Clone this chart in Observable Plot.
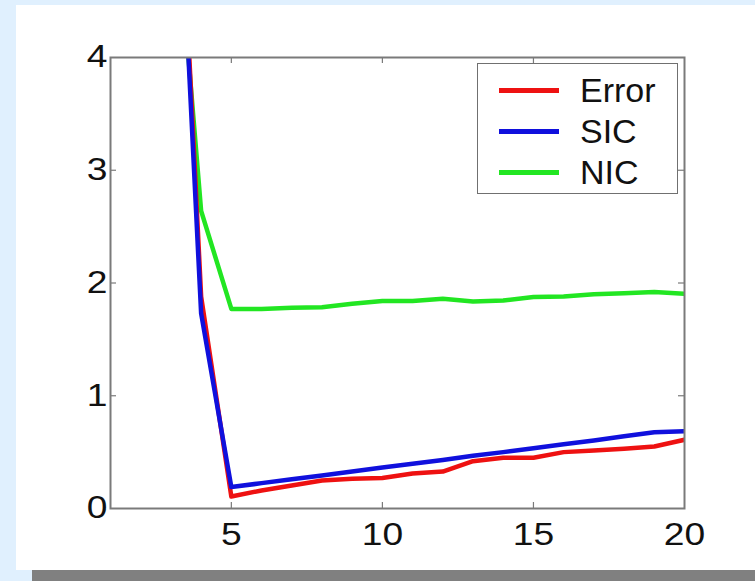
<!DOCTYPE html>
<html>
<head>
<meta charset="utf-8">
<script src="https://cdn.jsdelivr.net/npm/d3@7"></script>
<script src="https://cdn.jsdelivr.net/npm/@observablehq/plot@0.6"></script>
<style>
  html, body { margin: 0; padding: 0; }
  body { width: 755px; height: 581px; background: #e0f0fe; position: relative; overflow: hidden; font-family: "Liberation Sans", Arial, sans-serif; }
  #panel { position: absolute; left: 16px; top: 5px; width: 739px; height: 565px; background: #ffffff; }
  #bar { position: absolute; left: 32px; top: 570px; width: 723px; height: 11px; background: #808080; }
  #chart { position: absolute; left: 0; top: 0; }
  #legend { position: absolute; left: 477px; top: 63px; width: 199px; height: 129px; border: 1.5px solid #707070; background: #fff; }
  .row { position: absolute; left: 0; height: 40px; width: 199px; }
  .sw { position: absolute; left: 21px; top: 18px; width: 60px; height: 4.5px; }
  .lab { position: absolute; left: 102px; top: 0; line-height: 40px; font-size: 34px; color: #111; }
</style>
</head>
<body>
<div id="panel"></div>
<div id="bar"></div>
<div id="chart"></div>
<div id="legend"></div>
<script>
// x positions
const xs = [3, 4, 5, 6, 7, 8, 9, 10, 11, 12, 13, 14, 15, 16, 17, 18, 19, 20];
// series values
const errorVals = [7.3, 1.88, 0.106, 0.16, 0.204, 0.248, 0.263, 0.27, 0.31, 0.328, 0.42, 0.45, 0.45, 0.5, 0.514, 0.53, 0.55, 0.61];
const sicVals   = [7.15, 1.73, 0.19, 0.225, 0.26, 0.293, 0.328, 0.364, 0.396, 0.43, 0.467, 0.5, 0.535, 0.57, 0.603, 0.64, 0.677, 0.686];
const nicVals   = [5.88, 2.64, 1.77, 1.77, 1.78, 1.785, 1.815, 1.84, 1.84, 1.86, 1.835, 1.845, 1.875, 1.88, 1.9, 1.91, 1.92, 1.905];
const seriesNames = ["Error", "SIC", "NIC"];
const seriesColors = ["#ee1111", "#1010dd", "#22e622"];
const xTicks = [5, 10, 15, 20];
const yTicks = [0, 1, 2, 3, 4];
const xInnerTicks = [5, 10, 15];
const yInnerTicks = [1, 2, 3];

const table = (name, vals) => xs.map((x, i) => ({series: name, x, y: vals[i]}));
const errData = table("Error", errorVals);
const sicData = table("SIC", sicVals);
const nicData = table("NIC", nicVals);

const gray = "#7a7a7a";
const chart = Plot.plot({
  width: 755,
  height: 581,
  marginLeft: 110,
  marginRight: 71,
  marginTop: 57,
  marginBottom: 73,
  style: "background: transparent; overflow: visible; font-family: 'Liberation Sans', Arial, sans-serif;",
  x: {domain: [1, 20]},
  y: {domain: [0, 4]},
  marks: [
    Plot.line(nicData, {x: "x", y: "y", stroke: seriesColors[2], strokeWidth: 4.5, clip: true}),
    Plot.line(errData, {x: "x", y: "y", stroke: seriesColors[0], strokeWidth: 4.5, clip: true}),
    Plot.line(sicData, {x: "x", y: "y", stroke: seriesColors[1], strokeWidth: 4.5, clip: true}),
    Plot.ruleX(xInnerTicks, {x: d => d, y1: 0, y2: 0, insetTop: -6, stroke: gray, strokeWidth: 1.2}),
    Plot.ruleX(xInnerTicks, {x: d => d, y1: 4, y2: 4, insetBottom: -6, stroke: gray, strokeWidth: 1.2}),
    Plot.ruleY(yInnerTicks, {y: d => d, x1: 1, x2: 1, insetRight: -6, stroke: gray, strokeWidth: 1.2}),
    Plot.ruleY(yInnerTicks, {y: d => d, x1: 20, x2: 20, insetLeft: -6, stroke: gray, strokeWidth: 1.2}),
    Plot.frame({stroke: gray, strokeWidth: 2}),
    Plot.axisX({ticks: xTicks, tickFormat: d => String(d), tickSize: 0, tickPadding: 14, fontSize: 31, label: null, fill: "#111"}),
    Plot.axisY({ticks: yTicks, tickFormat: d => String(d), tickSize: 0, tickPadding: 3, fontSize: 31, label: null, fill: "#111"})
  ]
});
// the reference's tick digits are horizontally wide: stretch each label about its anchor
chart.querySelectorAll("g[aria-label='x-axis tick label'] text, g[aria-label='y-axis tick label'] text").forEach(t => {
  const tr = t.getAttribute("transform") || "";
  t.setAttribute("transform", tr + " scale(1.2,1)");
});
document.getElementById("chart").appendChild(chart);

// legend
const legend = document.getElementById("legend");
seriesNames.forEach((name, i) => {
  const row = document.createElement("div");
  row.className = "row";
  row.style.top = (6 + i * 41) + "px";
  const sw = document.createElement("div");
  sw.className = "sw";
  sw.style.background = seriesColors[i];
  const lab = document.createElement("div");
  lab.className = "lab";
  lab.textContent = name;
  row.appendChild(sw);
  row.appendChild(lab);
  legend.appendChild(row);
});
</script>
</body>
</html>
